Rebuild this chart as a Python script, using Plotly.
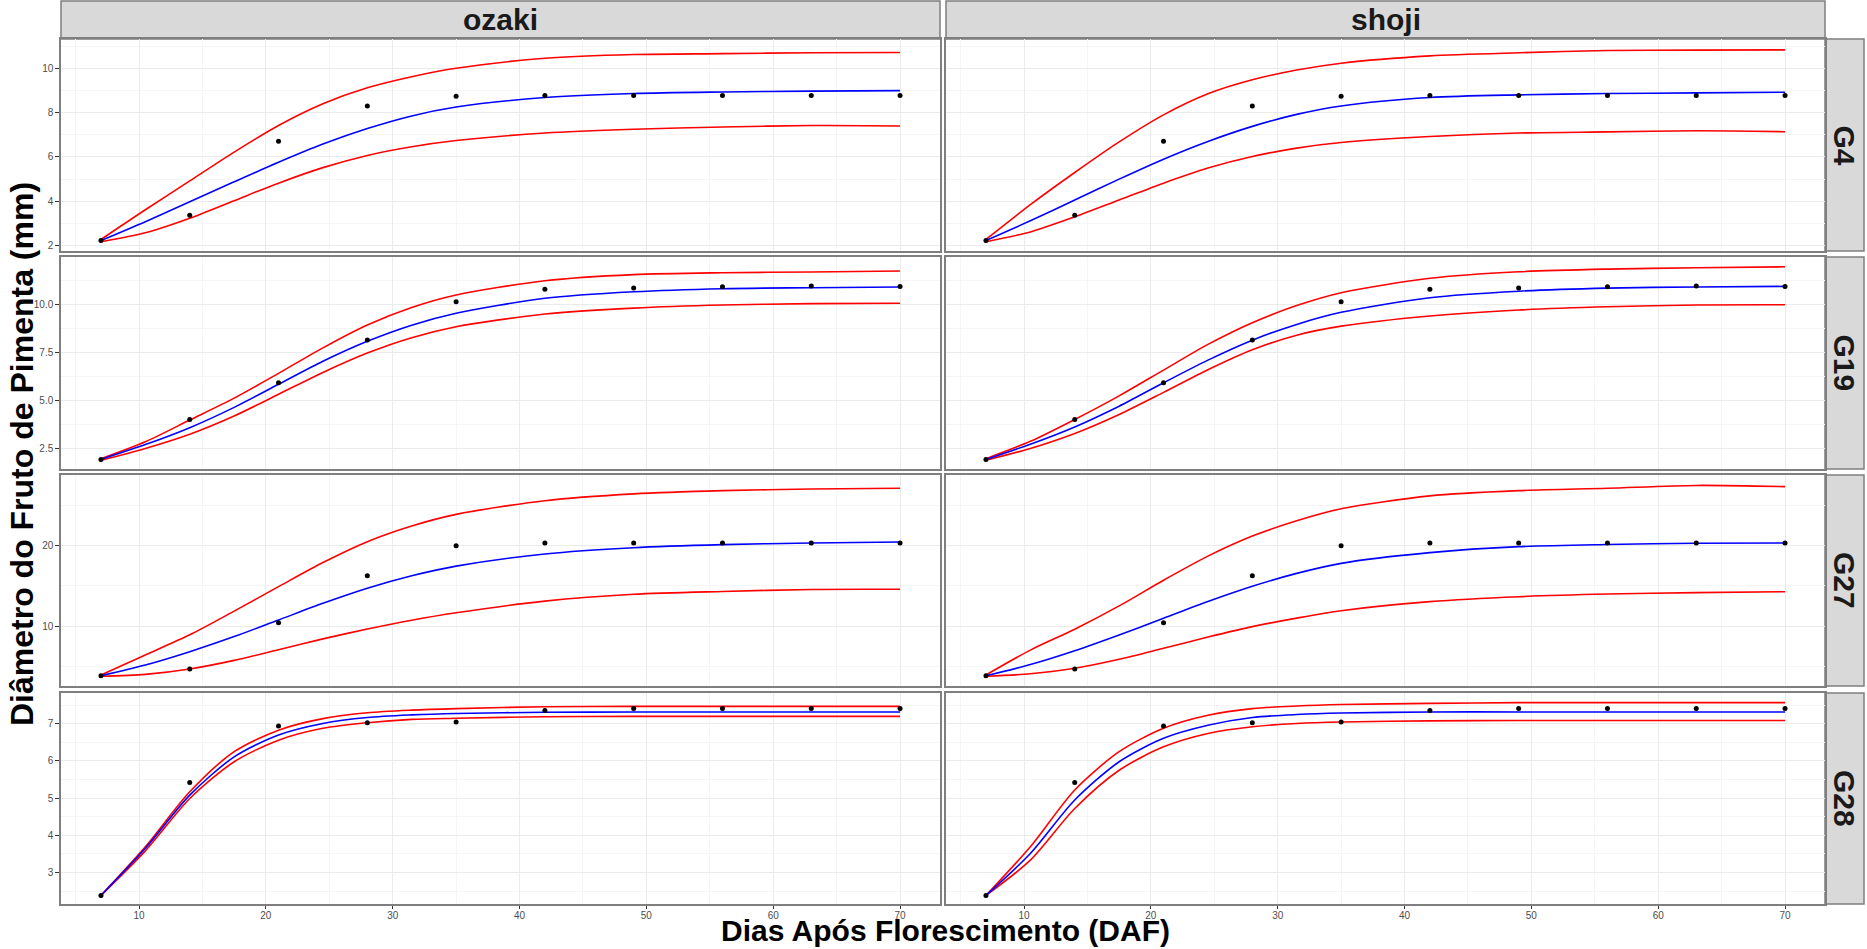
import plotly.graph_objects as go

# ---------------- data ----------------
days = [7, 14, 21, 28, 35, 42, 49, 56, 63, 70]
curve_x = [7, 10.5, 14, 17.5, 21, 24.5, 28, 31.5, 35, 42, 49, 56, 63, 70]

cultivars = ["ozaki", "shoji"]
genotypes = ["G4", "G19", "G27", "G28"]

obs_G4 = [2.23, 3.37, 6.71, 8.30, 8.74, 8.77, 8.77, 8.77, 8.77, 8.77]
obs_G19 = [1.91, 3.99, 5.90, 8.13, 10.12, 10.77, 10.83, 10.90, 10.94, 10.92]
obs_G27 = [3.81, 4.65, 10.41, 16.27, 20.0, 20.34, 20.34, 20.34, 20.34, 20.34]
obs_G28 = [2.38, 5.42, 6.94, 7.03, 7.05, 7.36, 7.41, 7.41, 7.41, 7.41]

fit_G4_ozaki = [2.23, 3.08, 3.98, 4.88, 5.76, 6.58, 7.28, 7.85, 8.25, 8.68, 8.86, 8.93, 8.97, 8.99]
upr_G4_ozaki = [2.28, 3.62, 4.92, 6.22, 7.42, 8.40, 9.12, 9.62, 10.00, 10.45, 10.62, 10.66, 10.70, 10.71]
lwr_G4_ozaki = [2.18, 2.58, 3.24, 4.03, 4.82, 5.52, 6.07, 6.46, 6.74, 7.08, 7.25, 7.35, 7.42, 7.40]

fit_G4_shoji = [2.23, 3.12, 4.06, 5.00, 5.90, 6.70, 7.38, 7.92, 8.30, 8.68, 8.80, 8.86, 8.89, 8.92]
upr_G4_shoji = [2.28, 3.85, 5.30, 6.68, 7.90, 8.85, 9.48, 9.92, 10.23, 10.56, 10.70, 10.80, 10.82, 10.83]
lwr_G4_shoji = [2.18, 2.62, 3.30, 4.06, 4.82, 5.50, 6.02, 6.40, 6.65, 6.92, 7.08, 7.13, 7.18, 7.14]

fit_G19_ozaki = [1.91, 2.68, 3.56, 4.62, 5.82, 7.02, 8.06, 8.90, 9.52, 10.30, 10.64, 10.80, 10.85, 10.89]
upr_G19_ozaki = [1.95, 2.83, 3.96, 5.10, 6.39, 7.72, 8.91, 9.82, 10.47, 11.21, 11.53, 11.63, 11.67, 11.72]
lwr_G19_ozaki = [1.87, 2.48, 3.22, 4.17, 5.30, 6.44, 7.45, 8.25, 8.82, 9.48, 9.79, 9.95, 10.02, 10.04]

fit_G19_shoji = [1.91, 2.70, 3.60, 4.68, 5.90, 7.08, 8.12, 8.94, 9.57, 10.33, 10.67, 10.83, 10.89, 10.92]
upr_G19_shoji = [1.95, 2.85, 3.99, 5.22, 6.56, 7.90, 9.03, 9.92, 10.59, 11.34, 11.68, 11.82, 11.89, 11.94]
lwr_G19_shoji = [1.87, 2.48, 3.26, 4.25, 5.40, 6.58, 7.62, 8.38, 8.85, 9.38, 9.69, 9.86, 9.95, 9.96]

fit_G27_ozaki = [3.81, 5.14, 6.80, 8.68, 10.75, 12.82, 14.70, 16.25, 17.45, 18.97, 19.75, 20.13, 20.34, 20.46]
upr_G27_ozaki = [3.90, 6.40, 8.90, 11.85, 14.90, 17.90, 20.50, 22.45, 23.90, 25.60, 26.45, 26.85, 27.05, 27.15]
lwr_G27_ozaki = [3.75, 3.98, 4.65, 5.72, 7.05, 8.40, 9.62, 10.72, 11.65, 13.10, 13.95, 14.30, 14.55, 14.57]

fit_G27_shoji = [3.81, 5.20, 6.92, 8.88, 10.96, 13.05, 14.95, 16.55, 17.80, 19.13, 19.88, 20.15, 20.30, 20.34]
upr_G27_shoji = [3.90, 7.00, 9.60, 12.50, 15.70, 18.70, 21.20, 23.10, 24.60, 26.20, 26.85, 27.15, 27.50, 27.35]
lwr_G27_shoji = [3.75, 4.06, 4.73, 5.85, 7.22, 8.62, 9.92, 10.98, 11.90, 13.03, 13.65, 13.98, 14.15, 14.27]

fit_G28_ozaki = [2.38, 3.65, 5.08, 6.11, 6.70, 7.01, 7.17, 7.24, 7.28, 7.31, 7.32, 7.32, 7.32, 7.32]
upr_G28_ozaki = [2.38, 3.69, 5.17, 6.25, 6.83, 7.14, 7.30, 7.37, 7.41, 7.46, 7.47, 7.47, 7.47, 7.47]
lwr_G28_ozaki = [2.38, 3.58, 4.99, 5.98, 6.56, 6.88, 7.03, 7.12, 7.15, 7.19, 7.20, 7.20, 7.20, 7.20]

fit_G28_shoji = [2.38, 3.51, 4.95, 5.98, 6.61, 6.96, 7.17, 7.25, 7.29, 7.32, 7.32, 7.32, 7.32, 7.32]
upr_G28_shoji = [2.38, 3.69, 5.22, 6.25, 6.88, 7.23, 7.41, 7.48, 7.52, 7.55, 7.57, 7.57, 7.57, 7.57]
lwr_G28_shoji = [2.38, 3.33, 4.72, 5.75, 6.38, 6.74, 6.92, 7.01, 7.05, 7.08, 7.09, 7.09, 7.09, 7.09]

x_ticks = [10, 20, 30, 40, 50, 60, 70]
y_ticks_G4 = [2, 4, 6, 8, 10]
y_ticks_G19 = [2.5, 5.0, 7.5, 10.0]
y_ticklabels_G19 = ["2.5", "5.0", "7.5", "10.0"]
y_ticks_G27 = [10, 20]
y_ticks_G28 = [3, 4, 5, 6, 7]

x_title = "Dias Após Florescimento (DAF)"
y_title = "Diâmetro do Fruto de Pimenta (mm)"

# ---------------- assembly ----------------
obs = {"G4": obs_G4, "G19": obs_G19, "G27": obs_G27, "G28": obs_G28}
curves = {
    ("G4", "ozaki"): (fit_G4_ozaki, upr_G4_ozaki, lwr_G4_ozaki),
    ("G4", "shoji"): (fit_G4_shoji, upr_G4_shoji, lwr_G4_shoji),
    ("G19", "ozaki"): (fit_G19_ozaki, upr_G19_ozaki, lwr_G19_ozaki),
    ("G19", "shoji"): (fit_G19_shoji, upr_G19_shoji, lwr_G19_shoji),
    ("G27", "ozaki"): (fit_G27_ozaki, upr_G27_ozaki, lwr_G27_ozaki),
    ("G27", "shoji"): (fit_G27_shoji, upr_G27_shoji, lwr_G27_shoji),
    ("G28", "ozaki"): (fit_G28_ozaki, upr_G28_ozaki, lwr_G28_ozaki),
    ("G28", "shoji"): (fit_G28_shoji, upr_G28_shoji, lwr_G28_shoji),
}
y_setup = {
    "G4": dict(range=[1.76, 11.32], tickvals=y_ticks_G4, ticktext=[str(v) for v in y_ticks_G4],
               minor=[3, 5, 7, 9, 11]),
    "G19": dict(range=[1.41, 12.45], tickvals=y_ticks_G19, ticktext=y_ticklabels_G19,
                minor=[3.75, 6.25, 8.75, 11.25]),
    "G27": dict(range=[2.53, 28.8], tickvals=y_ticks_G27, ticktext=[str(v) for v in y_ticks_G27],
                minor=[5, 15, 25]),
    "G28": dict(range=[2.15, 7.83], tickvals=y_ticks_G28, ticktext=[str(v) for v in y_ticks_G28],
                minor=[2.5, 3.5, 4.5, 5.5, 6.5, 7.5]),
}

W, H = 1867, 949
col_px = [(61, 940), (946, 1825)]
row_px = [(39, 251), (257, 469), (475, 686), (693, 904)]
strip_top = (1, 39)
strip_right = (1825, 1864)

def px(x):
    return x / W

def py(y):
    return 1 - y / H

FONT = "Liberation Sans, Arial, Helvetica, sans-serif"
BORDER = "#7f7f7f"
GRID = "#ebebeb"
MINOR = "#f5f5f5"

fig = go.Figure()
layout = dict(
    width=W, height=H, margin=dict(l=0, r=0, t=0, b=0),
    paper_bgcolor="white", plot_bgcolor="white",
    showlegend=False, font=dict(family=FONT),
    shapes=[], annotations=[],
)

for r, g in enumerate(genotypes):
    for c, cv in enumerate(cultivars):
        k = r * 2 + c + 1
        xa = "x" if k == 1 else f"x{k}"
        ya = "y" if k == 1 else f"y{k}"
        fit, upr, lwr = curves[(g, cv)]
        for ys, col in ((upr, "red"), (lwr, "red"), (fit, "blue")):
            fig.add_trace(go.Scatter(x=curve_x, y=ys, mode="lines", xaxis=xa, yaxis=ya,
                                     line=dict(color=col, width=1.6, shape="spline", smoothing=0.8),
                                     hoverinfo="skip"))
        fig.add_trace(go.Scatter(x=days, y=obs[g], mode="markers", xaxis=xa, yaxis=ya,
                                 marker=dict(color="black", size=5)))
        ys_ = y_setup[g]
        layout[f"xaxis{k if k > 1 else ''}"] = dict(
            domain=[px(col_px[c][0]), px(col_px[c][1])], anchor=ya,
            range=[3.85, 73.15], tickvals=x_ticks, showticklabels=(r == 3),
            ticks="outside" if r == 3 else "", ticklen=3, tickcolor="#333333",
            ticklabelstandoff=-2,
            tickfont=dict(size=10, color="#4d4d4d"),
            showgrid=True, gridcolor=GRID, gridwidth=1.2, zeroline=False,
            minor=dict(tickvals=[5, 15, 25, 35, 45, 55, 65], showgrid=True, gridcolor=MINOR, gridwidth=0.8),
            showline=True, mirror=True, linecolor=BORDER, linewidth=1.5,
        )
        layout[f"yaxis{k if k > 1 else ''}"] = dict(
            domain=[py(row_px[r][1]), py(row_px[r][0])], anchor=xa,
            range=ys_["range"], tickvals=ys_["tickvals"], ticktext=ys_["ticktext"],
            showticklabels=(c == 0), ticks="outside" if c == 0 else "", ticklen=4,
            tickcolor="#333333", tickfont=dict(size=10, color="#4d4d4d"),
            showgrid=True, gridcolor=GRID, gridwidth=1.2, zeroline=False,
            minor=dict(tickvals=ys_["minor"], showgrid=True, gridcolor=MINOR, gridwidth=0.8),
            showline=True, mirror=True, linecolor=BORDER, linewidth=1.5,
        )

# strips on top
for c, cv in enumerate(cultivars):
    x0, x1 = col_px[c]
    layout["shapes"].append(dict(type="rect", xref="paper", yref="paper",
                                 x0=px(x0), x1=px(x1), y0=py(strip_top[1]), y1=py(strip_top[0]),
                                 fillcolor="#d9d9d9", line=dict(color=BORDER, width=1.5), layer="below"))
    layout["annotations"].append(dict(text=f"<b>{cv}</b>", xref="paper", yref="paper",
                                      x=px((x0 + x1) / 2), y=py((strip_top[0] + strip_top[1]) / 2),
                                      xanchor="center", yanchor="middle", showarrow=False,
                                      font=dict(size=30, color="#1a1a1a", family=FONT)))
# strips on right
for r, g in enumerate(genotypes):
    y0, y1 = row_px[r]
    layout["shapes"].append(dict(type="rect", xref="paper", yref="paper",
                                 x0=px(strip_right[0]), x1=px(strip_right[1]), y0=py(y1), y1=py(y0),
                                 fillcolor="#d9d9d9", line=dict(color=BORDER, width=1.5), layer="below"))
    layout["annotations"].append(dict(text=f"<b>{g}</b>", xref="paper", yref="paper",
                                      x=px((strip_right[0] + strip_right[1]) / 2), y=py((y0 + y1) / 2),
                                      xanchor="center", yanchor="middle", showarrow=False, textangle=90,
                                      font=dict(size=30, color="#1a1a1a", family=FONT)))

# axis titles
layout["annotations"].append(dict(text=f"<b>{x_title}</b>", xref="paper", yref="paper",
                                  x=px(945), y=0, xanchor="center", yanchor="bottom",
                                  showarrow=False, font=dict(size=30, color="black", family=FONT)))
layout["annotations"].append(dict(text=f"<b>{y_title}</b>", xref="paper", yref="paper",
                                  x=px(22), y=py(454), xanchor="center", yanchor="middle",
                                  textangle=-90, showarrow=False,
                                  font=dict(size=32, color="black", family=FONT)))

fig.update_layout(**layout)
fig.write_html("out.html", config={"displayModeBar": False},
               post_script="document.body.style.margin='0px';document.body.style.overflow='hidden';")
